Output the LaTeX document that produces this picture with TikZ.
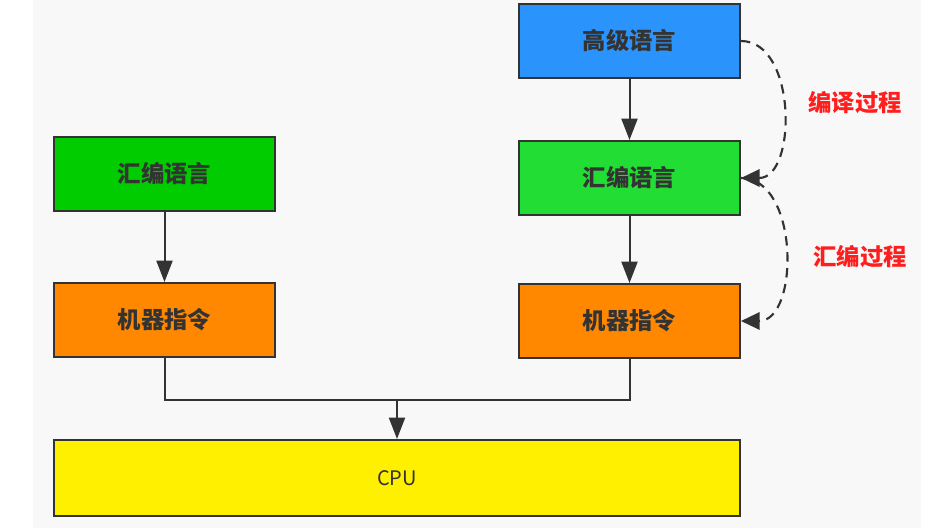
\documentclass[tikz,border=0pt]{standalone}
\usepackage{fontspec}
\usepackage{xcolor}
\usetikzlibrary{arrows.meta, positioning}
\newfontfamily\cjk{Noto Sans CJK SC}
\definecolor{inkgray}{RGB}{51, 51, 51}
\definecolor{canvas}{RGB}{247, 248, 247}
\definecolor{highblue}{RGB}{42, 148, 252}
\definecolor{asmgreen}{RGB}{0, 204, 0}
\definecolor{asmlite}{RGB}{34, 221, 51}
\definecolor{machorange}{RGB}{255, 136, 0}
\definecolor{cpuyellow}{RGB}{255, 240, 0}
\definecolor{stepred}{RGB}{255, 30, 30}

\begin{document}
\begin{tikzpicture}[x=0.75pt, y=-0.75pt,
  bx/.style={rectangle, draw=inkgray, line width=1.5pt,
    font=\cjk\fontsize{17.5pt}{20pt}\selectfont\bfseries, text=inkgray,
    minimum width=165.75pt, minimum height=55.5pt,
    inner sep=0pt, anchor=center},
  arr/.style={-{Triangle[length=16pt, width=12pt]}, line width=1.5pt, color=inkgray},
  darr/.style={-{Triangle[length=14pt, width=13pt]}, line width=1.6pt, color=inkgray,
    dash pattern=on 7pt off 5pt},
  lbl/.style={font=\cjk\fontsize{17.5pt}{20pt}\selectfont\bfseries, text=stepred}
]
% background
\fill[white] (0,0) rectangle (933,528);
\fill[canvas] (33,0) rectangle (921,528);
\useasboundingbox (0,0) rectangle (933,528);

% right column
\node[bx, fill=highblue]  at (629.5, 41)  (high)  {高级语言};
\node[bx, fill=asmlite]   at (629.5, 178) (asmR)  {汇编语言};
\node[bx, fill=machorange] at (629.5, 321) (machR) {机器指令};
% left column
\node[bx, fill=asmgreen]  at (164.5, 174) (asmL)  {汇编语言};
\node[bx, fill=machorange] at (164.5, 320) (machL) {机器指令};
% cpu
\node[bx, fill=cpuyellow, minimum width=514.5pt, minimum height=57pt,
      font=\cjk\fontsize{15pt}{17pt}\selectfont] at (397, 478) (cpu) {CPU};

\draw[arr] (high.south) -- (asmR.north);
\draw[arr] (asmR.south) -- (machR.north);
\draw[arr] (asmL.south) -- (machL.north);

\coordinate (join) at (397, 400);
\draw[line width=1.5pt, color=inkgray] (machL.south) |- (join) -| (machR.south);
\draw[arr] (join) -- (cpu.north);

% dashed steps
\draw[darr] (high.east) to[out=0, in=0, looseness=1.05] (asmR.east);
\draw[darr] (asmR.east) to[out=0, in=0, looseness=1.05] (machR.east);
\node[lbl] at (855, 103) (compile) {编译过程};
\node[lbl] at (860, 257) (assemble) {汇编过程};
\end{tikzpicture}
\end{document}
